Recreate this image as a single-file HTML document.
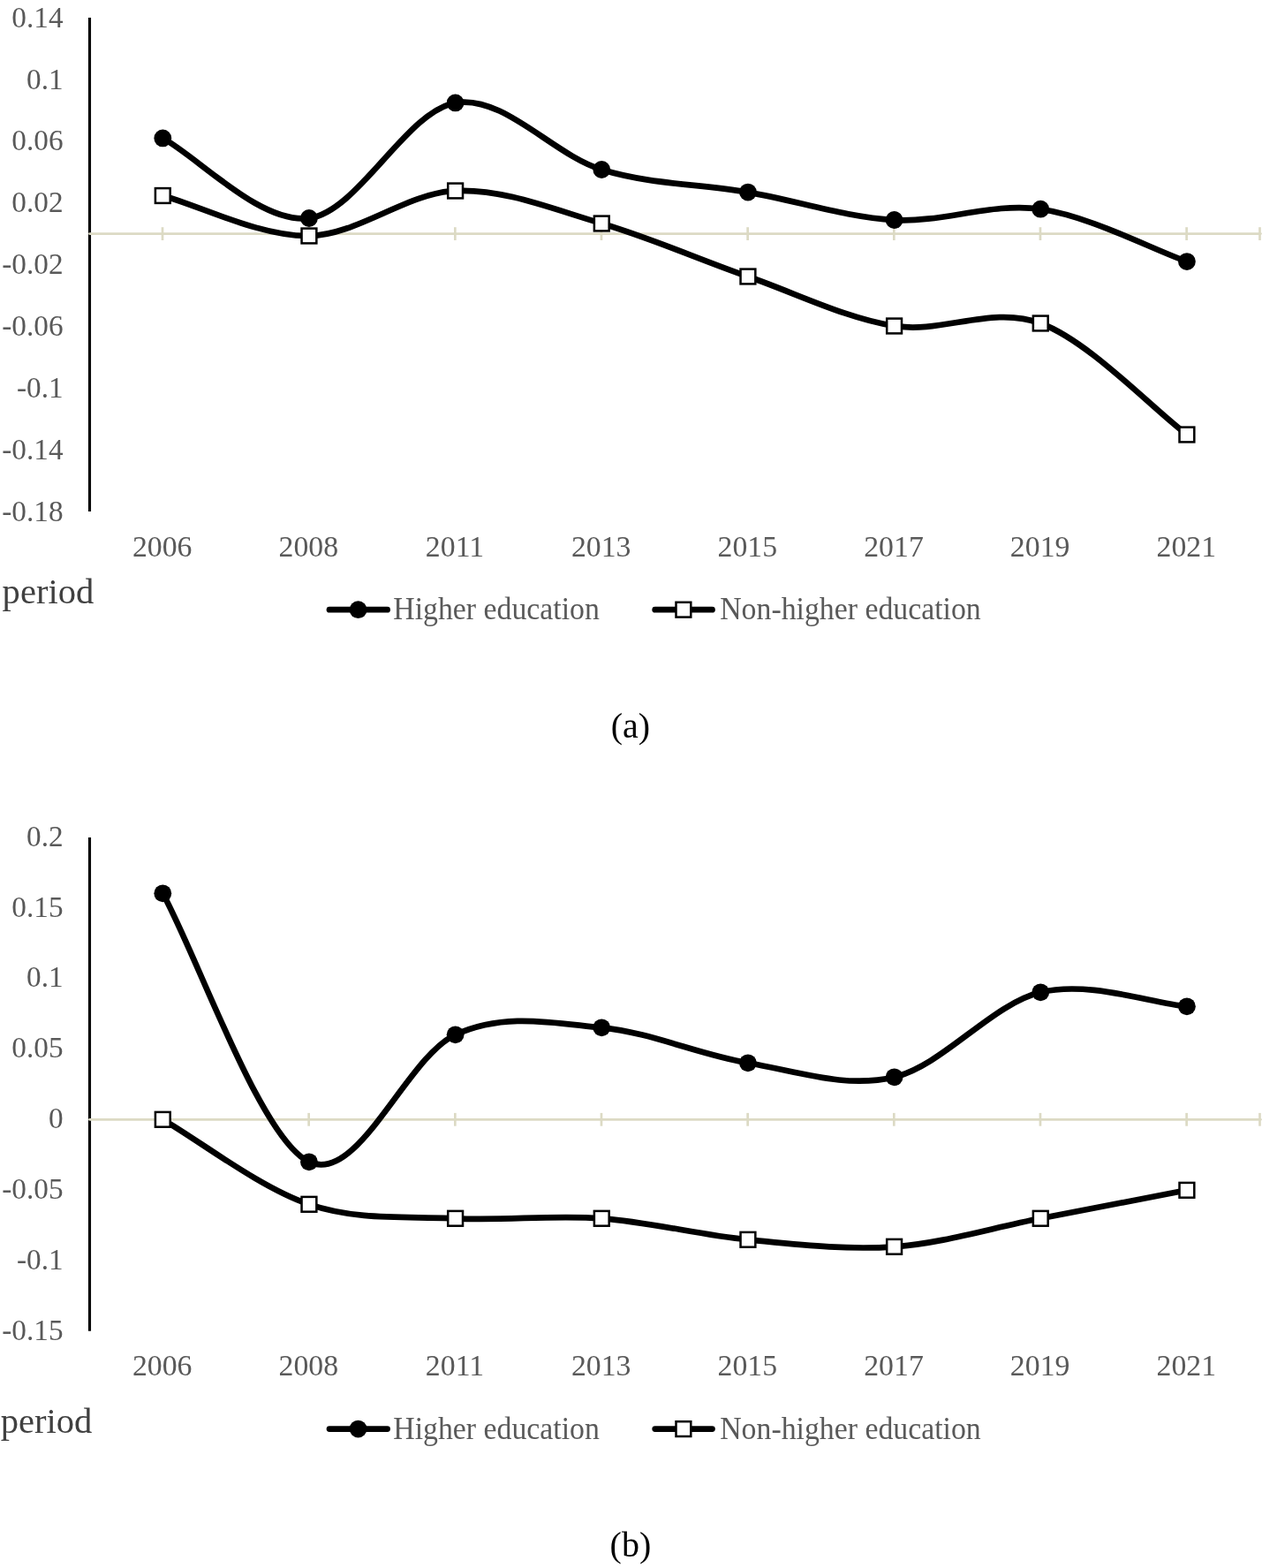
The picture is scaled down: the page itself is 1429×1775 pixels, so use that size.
<!DOCTYPE html>
<html><head><meta charset="utf-8"><title>Charts</title>
<style>
html,body{margin:0;padding:0;background:#fff;}
body{width:1429px;height:1775px;overflow:hidden;}
svg{display:block;}
text{font-family:"Liberation Serif","Times New Roman",serif;}
.t{font-size:33.8px;fill:#595959;}
.ty{font-size:33.3px;fill:#595959;}
.p{font-size:40.6px;fill:#404040;}
.c{font-size:40px;fill:#000;}
</style></head><body>
<svg width="1429" height="1775" viewBox="0 0 1429 1775">
<rect width="1429" height="1775" fill="#fff"/>
<line x1="101.5" y1="19.9" x2="101.5" y2="579.1" stroke="#000" stroke-width="3.1"/>
<line x1="101.5" y1="264.6" x2="1427.5" y2="264.6" stroke="#dcdac4" stroke-width="2.7" stroke-linecap="round"/>
<line x1="184.00" y1="257.20000000000005" x2="184.00" y2="272.0" stroke="#dcdac4" stroke-width="2.7"/>
<line x1="349.66" y1="257.20000000000005" x2="349.66" y2="272.0" stroke="#dcdac4" stroke-width="2.7"/>
<line x1="515.32" y1="257.20000000000005" x2="515.32" y2="272.0" stroke="#dcdac4" stroke-width="2.7"/>
<line x1="680.98" y1="257.20000000000005" x2="680.98" y2="272.0" stroke="#dcdac4" stroke-width="2.7"/>
<line x1="846.64" y1="257.20000000000005" x2="846.64" y2="272.0" stroke="#dcdac4" stroke-width="2.7"/>
<line x1="1012.30" y1="257.20000000000005" x2="1012.30" y2="272.0" stroke="#dcdac4" stroke-width="2.7"/>
<line x1="1177.96" y1="257.20000000000005" x2="1177.96" y2="272.0" stroke="#dcdac4" stroke-width="2.7"/>
<line x1="1343.62" y1="257.20000000000005" x2="1343.62" y2="272.0" stroke="#dcdac4" stroke-width="2.7"/>
<line x1="1426.50" y1="257.20000000000005" x2="1426.50" y2="272.0" stroke="#dcdac4" stroke-width="2.7"/>
<text transform="translate(71.60 30.70) scale(1 1.025)" text-anchor="end" class="ty">0.14</text>
<text transform="translate(71.60 100.55) scale(1 1.025)" text-anchor="end" class="ty">0.1</text>
<text transform="translate(71.60 170.40) scale(1 1.025)" text-anchor="end" class="ty">0.06</text>
<text transform="translate(71.60 240.25) scale(1 1.025)" text-anchor="end" class="ty">0.02</text>
<text transform="translate(71.60 310.10) scale(1 1.025)" text-anchor="end" class="ty">-0.02</text>
<text transform="translate(71.60 379.95) scale(1 1.025)" text-anchor="end" class="ty">-0.06</text>
<text transform="translate(71.60 449.80) scale(1 1.025)" text-anchor="end" class="ty">-0.1</text>
<text transform="translate(71.60 519.65) scale(1 1.025)" text-anchor="end" class="ty">-0.14</text>
<text transform="translate(71.60 589.50) scale(1 1.025)" text-anchor="end" class="ty">-0.18</text>
<text transform="translate(183.70 630.30) scale(1 1.0)" text-anchor="middle" class="t">2006</text>
<text transform="translate(349.36 630.30) scale(1 1.0)" text-anchor="middle" class="t">2008</text>
<text transform="translate(515.02 630.30) scale(1 1.0)" text-anchor="middle" class="t">2011</text>
<text transform="translate(680.68 630.30) scale(1 1.0)" text-anchor="middle" class="t">2013</text>
<text transform="translate(846.34 630.30) scale(1 1.0)" text-anchor="middle" class="t">2015</text>
<text transform="translate(1012.00 630.30) scale(1 1.0)" text-anchor="middle" class="t">2017</text>
<text transform="translate(1177.66 630.30) scale(1 1.0)" text-anchor="middle" class="t">2019</text>
<text transform="translate(1343.32 630.30) scale(1 1.0)" text-anchor="middle" class="t">2021</text>
<path d="M184.30,156.40 C225.72,179.05 294.74,253.67 349.96,247.00 C405.18,240.33 460.40,125.57 515.62,116.40 C570.84,107.23 626.06,175.13 681.28,192.00 C736.50,208.87 791.72,208.10 846.94,217.60 C902.16,227.10 957.38,245.82 1012.60,249.00 C1067.82,252.18 1123.04,228.85 1178.26,236.70 C1233.48,244.55 1302.50,281.25 1343.92,296.10" fill="none" stroke="#000" stroke-width="6.7" stroke-linecap="round" stroke-linejoin="round"/>
<path d="M184.30,221.50 C225.72,232.88 294.74,267.92 349.96,267.00 C405.18,266.08 460.40,218.33 515.62,216.00 C570.84,213.67 626.06,236.83 681.28,253.00 C736.50,269.17 791.72,293.67 846.94,313.00 C902.16,332.33 957.38,360.17 1012.60,369.00 C1067.82,377.83 1123.04,345.50 1178.26,366.00 C1233.48,386.50 1302.50,460.50 1343.92,492.00" fill="none" stroke="#000" stroke-width="6.7" stroke-linecap="round" stroke-linejoin="round"/>
<circle cx="184.30" cy="156.4" r="9.9" fill="#000"/>
<circle cx="349.96" cy="247" r="9.9" fill="#000"/>
<circle cx="515.62" cy="116.4" r="9.9" fill="#000"/>
<circle cx="681.28" cy="192" r="9.9" fill="#000"/>
<circle cx="846.94" cy="217.6" r="9.9" fill="#000"/>
<circle cx="1012.60" cy="249" r="9.9" fill="#000"/>
<circle cx="1178.26" cy="236.7" r="9.9" fill="#000"/>
<circle cx="1343.92" cy="296.1" r="9.9" fill="#000"/>
<rect x="175.90" y="213.10" width="16.8" height="16.8" fill="#fff" stroke="#000" stroke-width="2.5"/>
<rect x="341.56" y="258.60" width="16.8" height="16.8" fill="#fff" stroke="#000" stroke-width="2.5"/>
<rect x="507.22" y="207.60" width="16.8" height="16.8" fill="#fff" stroke="#000" stroke-width="2.5"/>
<rect x="672.88" y="244.60" width="16.8" height="16.8" fill="#fff" stroke="#000" stroke-width="2.5"/>
<rect x="838.54" y="304.60" width="16.8" height="16.8" fill="#fff" stroke="#000" stroke-width="2.5"/>
<rect x="1004.20" y="360.60" width="16.8" height="16.8" fill="#fff" stroke="#000" stroke-width="2.5"/>
<rect x="1169.86" y="357.60" width="16.8" height="16.8" fill="#fff" stroke="#000" stroke-width="2.5"/>
<rect x="1335.52" y="483.60" width="16.8" height="16.8" fill="#fff" stroke="#000" stroke-width="2.5"/>
<text transform="translate(2.60 682.70) scale(1 1.0)" class="p">period</text>
<line x1="373" y1="690.2" x2="438.6" y2="690.2" stroke="#000" stroke-width="6.7" stroke-linecap="round"/>
<circle cx="405.6" cy="690.2" r="9.9" fill="#000"/>
<text transform="translate(445.30 701.10) scale(1 1.03)" class="t">Higher education</text>
<line x1="741.7" y1="690.2" x2="806.5" y2="690.2" stroke="#000" stroke-width="6.7" stroke-linecap="round"/>
<rect x="765.50" y="681.80" width="16.8" height="16.8" fill="#fff" stroke="#000" stroke-width="2.5"/>
<text transform="translate(815.20 701.10) scale(1 1.03)" class="t">Non-higher education</text>
<text transform="translate(713.90 835.00) scale(1 1.0)" text-anchor="middle" class="c">(a)</text>
<line x1="101.5" y1="948" x2="101.5" y2="1506.7" stroke="#000" stroke-width="3.1"/>
<line x1="101.5" y1="1267.3" x2="1427.5" y2="1267.3" stroke="#dcdac4" stroke-width="2.7" stroke-linecap="round"/>
<line x1="184.00" y1="1259.8999999999999" x2="184.00" y2="1274.7" stroke="#dcdac4" stroke-width="2.7"/>
<line x1="349.66" y1="1259.8999999999999" x2="349.66" y2="1274.7" stroke="#dcdac4" stroke-width="2.7"/>
<line x1="515.32" y1="1259.8999999999999" x2="515.32" y2="1274.7" stroke="#dcdac4" stroke-width="2.7"/>
<line x1="680.98" y1="1259.8999999999999" x2="680.98" y2="1274.7" stroke="#dcdac4" stroke-width="2.7"/>
<line x1="846.64" y1="1259.8999999999999" x2="846.64" y2="1274.7" stroke="#dcdac4" stroke-width="2.7"/>
<line x1="1012.30" y1="1259.8999999999999" x2="1012.30" y2="1274.7" stroke="#dcdac4" stroke-width="2.7"/>
<line x1="1177.96" y1="1259.8999999999999" x2="1177.96" y2="1274.7" stroke="#dcdac4" stroke-width="2.7"/>
<line x1="1343.62" y1="1259.8999999999999" x2="1343.62" y2="1274.7" stroke="#dcdac4" stroke-width="2.7"/>
<line x1="1426.50" y1="1259.8999999999999" x2="1426.50" y2="1274.7" stroke="#dcdac4" stroke-width="2.7"/>
<text transform="translate(71.60 957.60) scale(1 1.025)" text-anchor="end" class="ty">0.2</text>
<text transform="translate(71.60 1037.50) scale(1 1.025)" text-anchor="end" class="ty">0.15</text>
<text transform="translate(71.60 1117.40) scale(1 1.025)" text-anchor="end" class="ty">0.1</text>
<text transform="translate(71.60 1197.30) scale(1 1.025)" text-anchor="end" class="ty">0.05</text>
<text transform="translate(71.60 1277.20) scale(1 1.025)" text-anchor="end" class="ty">0</text>
<text transform="translate(71.60 1357.10) scale(1 1.025)" text-anchor="end" class="ty">-0.05</text>
<text transform="translate(71.60 1437.00) scale(1 1.025)" text-anchor="end" class="ty">-0.1</text>
<text transform="translate(71.60 1516.90) scale(1 1.025)" text-anchor="end" class="ty">-0.15</text>
<text transform="translate(183.70 1557.30) scale(1 1.0)" text-anchor="middle" class="t">2006</text>
<text transform="translate(349.36 1557.30) scale(1 1.0)" text-anchor="middle" class="t">2008</text>
<text transform="translate(515.02 1557.30) scale(1 1.0)" text-anchor="middle" class="t">2011</text>
<text transform="translate(680.68 1557.30) scale(1 1.0)" text-anchor="middle" class="t">2013</text>
<text transform="translate(846.34 1557.30) scale(1 1.0)" text-anchor="middle" class="t">2015</text>
<text transform="translate(1012.00 1557.30) scale(1 1.0)" text-anchor="middle" class="t">2017</text>
<text transform="translate(1177.66 1557.30) scale(1 1.0)" text-anchor="middle" class="t">2019</text>
<text transform="translate(1343.32 1557.30) scale(1 1.0)" text-anchor="middle" class="t">2021</text>
<path d="M184.30,1011.30 C225.72,1087.30 294.74,1288.63 349.96,1315.30 C405.18,1341.97 460.40,1196.63 515.62,1171.30 C570.84,1145.97 626.06,1157.97 681.28,1163.30 C736.50,1168.63 791.72,1193.97 846.94,1203.30 C902.16,1212.63 957.38,1232.63 1012.60,1219.30 C1067.82,1205.97 1123.04,1136.63 1178.26,1123.30 C1233.48,1109.97 1302.50,1135.30 1343.92,1139.30" fill="none" stroke="#000" stroke-width="6.7" stroke-linecap="round" stroke-linejoin="round"/>
<path d="M184.30,1267.30 C225.72,1291.30 294.74,1344.63 349.96,1363.30 C405.18,1381.97 460.40,1376.63 515.62,1379.30 C570.84,1381.97 626.06,1375.30 681.28,1379.30 C736.50,1383.30 791.72,1397.97 846.94,1403.30 C902.16,1408.63 957.38,1415.30 1012.60,1411.30 C1067.82,1407.30 1123.04,1389.97 1178.26,1379.30 C1233.48,1368.63 1302.50,1355.30 1343.92,1347.30" fill="none" stroke="#000" stroke-width="6.7" stroke-linecap="round" stroke-linejoin="round"/>
<circle cx="184.30" cy="1011.3" r="9.9" fill="#000"/>
<circle cx="349.96" cy="1315.3" r="9.9" fill="#000"/>
<circle cx="515.62" cy="1171.3" r="9.9" fill="#000"/>
<circle cx="681.28" cy="1163.3" r="9.9" fill="#000"/>
<circle cx="846.94" cy="1203.3" r="9.9" fill="#000"/>
<circle cx="1012.60" cy="1219.3" r="9.9" fill="#000"/>
<circle cx="1178.26" cy="1123.3" r="9.9" fill="#000"/>
<circle cx="1343.92" cy="1139.3" r="9.9" fill="#000"/>
<rect x="175.90" y="1258.90" width="16.8" height="16.8" fill="#fff" stroke="#000" stroke-width="2.5"/>
<rect x="341.56" y="1354.90" width="16.8" height="16.8" fill="#fff" stroke="#000" stroke-width="2.5"/>
<rect x="507.22" y="1370.90" width="16.8" height="16.8" fill="#fff" stroke="#000" stroke-width="2.5"/>
<rect x="672.88" y="1370.90" width="16.8" height="16.8" fill="#fff" stroke="#000" stroke-width="2.5"/>
<rect x="838.54" y="1394.90" width="16.8" height="16.8" fill="#fff" stroke="#000" stroke-width="2.5"/>
<rect x="1004.20" y="1402.90" width="16.8" height="16.8" fill="#fff" stroke="#000" stroke-width="2.5"/>
<rect x="1169.86" y="1370.90" width="16.8" height="16.8" fill="#fff" stroke="#000" stroke-width="2.5"/>
<rect x="1335.52" y="1338.90" width="16.8" height="16.8" fill="#fff" stroke="#000" stroke-width="2.5"/>
<text transform="translate(0.70 1621.70) scale(1 1.0)" class="p">period</text>
<line x1="373" y1="1617.6" x2="438.6" y2="1617.6" stroke="#000" stroke-width="6.7" stroke-linecap="round"/>
<circle cx="405.6" cy="1617.6" r="9.9" fill="#000"/>
<text transform="translate(445.30 1628.50) scale(1 1.03)" class="t">Higher education</text>
<line x1="741.7" y1="1617.6" x2="806.5" y2="1617.6" stroke="#000" stroke-width="6.7" stroke-linecap="round"/>
<rect x="765.50" y="1609.20" width="16.8" height="16.8" fill="#fff" stroke="#000" stroke-width="2.5"/>
<text transform="translate(815.20 1628.50) scale(1 1.03)" class="t">Non-higher education</text>
<text transform="translate(713.90 1762.00) scale(1 1.0)" text-anchor="middle" class="c">(b)</text>
</svg>
</body></html>
